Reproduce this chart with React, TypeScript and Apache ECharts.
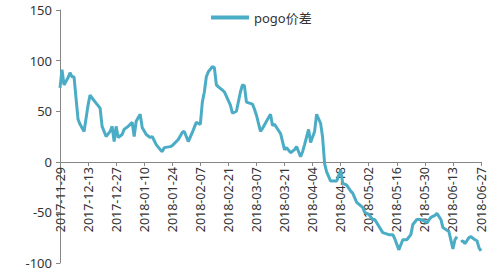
import React, { useEffect, useRef } from "react";
import * as echarts from "echarts";

const seriesName = "pogo价差";
const startDate = "2017-11-29";
const endDate = "2018-06-27";
const yTicks = [-100, -50, 0, 50, 100, 150];

const pointDates = [
  "2017-11-29", "2017-11-30", "2017-12-01", "2017-12-03", "2017-12-04", "2017-12-05", "2017-12-06",
  "2017-12-08", "2017-12-09", "2017-12-11", "2017-12-13", "2017-12-14", "2017-12-15", "2017-12-17",
  "2017-12-19", "2017-12-20", "2017-12-22", "2017-12-24", "2017-12-25", "2017-12-26", "2017-12-27",
  "2017-12-28", "2017-12-30", "2017-12-31", "2018-01-02", "2018-01-04", "2018-01-05", "2018-01-06",
  "2018-01-08", "2018-01-09", "2018-01-11", "2018-01-13", "2018-01-14", "2018-01-16", "2018-01-18",
  "2018-01-19", "2018-01-20", "2018-01-23", "2018-01-24", "2018-01-27", "2018-01-29", "2018-01-30",
  "2018-02-01", "2018-02-03", "2018-02-04", "2018-02-05", "2018-02-07", "2018-02-08", "2018-02-09",
  "2018-02-10", "2018-02-11", "2018-02-13", "2018-02-14", "2018-02-15", "2018-02-16", "2018-02-18",
  "2018-02-19", "2018-02-22", "2018-02-23", "2018-02-25", "2018-02-27", "2018-02-28", "2018-03-01",
  "2018-03-02", "2018-03-05", "2018-03-06", "2018-03-07", "2018-03-09", "2018-03-10", "2018-03-12",
  "2018-03-14", "2018-03-15", "2018-03-16", "2018-03-19", "2018-03-21", "2018-03-22", "2018-03-24",
  "2018-03-26", "2018-03-27", "2018-03-29", "2018-03-30", "2018-03-31", "2018-04-02", "2018-04-03",
  "2018-04-05", "2018-04-06", "2018-04-08", "2018-04-09", "2018-04-10", "2018-04-11", "2018-04-13",
  "2018-04-14", "2018-04-16", "2018-04-18", "2018-04-19", "2018-04-21", "2018-04-23", "2018-04-24",
  "2018-04-26", "2018-04-29", "2018-04-30", "2018-05-02", "2018-05-04", "2018-05-05", "2018-05-09",
  "2018-05-12", "2018-05-14", "2018-05-15", "2018-05-17", "2018-05-19", "2018-05-21", "2018-05-23",
  "2018-05-24", "2018-05-26", "2018-05-28", "2018-05-29", "2018-05-31", "2018-06-02", "2018-06-04",
  "2018-06-05", "2018-06-07", "2018-06-08", "2018-06-11", "2018-06-13", "2018-06-14", "2018-06-15",
  "2018-06-16", "2018-06-17", "2018-06-18", "2018-06-19", "2018-06-21", "2018-06-22", "2018-06-24",
  "2018-06-25", "2018-06-26", "2018-06-27",
];

const pointValues: (number | null)[] = [
  73, 91, 76, 83, 88, 84, 84,
  42, 37, 30, 56, 66, 63, 58,
  53, 35, 25, 30, 35, 20, 35,
  24, 27, 32, 35, 39, 25, 40,
  47, 34, 27, 24, 25, 17, 12,
  10, 14, 15, 16, 22, 29, 30,
  20, 29, 34, 39, 37, 59, 69,
  84, 89, 94, 93, 76, 74, 71,
  69, 56, 48, 50, 69, 76, 75,
  59, 57, 52, 46, 30, 33, 40,
  47, 36, 37, 28, 12, 14, 9,
  12, 15, 5, 10, 17, 32, 19,
  30, 47, 38, 24, -2, -10, -19,
  -19, -19, -8, -21, -23, -29, -31,
  -40, -45, -50, -52, -57, -57, -70,
  -72, -72, -76, -87, -77, -77, -72,
  -62, -57, -57, -58, -60, -55, -53,
  -51, -57, -65, -69, -86, -77, -74,
  null, -79, -78, -81, -75, -74, -77,
  -78, -85, -88,
];

function buildCategories(start: string, end: string): string[] {
  const out: string[] = [];
  const d = new Date(start + "T00:00:00Z");
  const e = new Date(end + "T00:00:00Z");
  while (d.getTime() <= e.getTime()) {
    out.push(d.toISOString().slice(0, 10));
    d.setUTCDate(d.getUTCDate() + 1);
  }
  return out;
}

export default function App() {
  const ref = useRef<HTMLDivElement>(null);
  useEffect(() => {
    document.body.style.margin = "0";
    if (!ref.current) return;
    const chart = echarts.init(ref.current, undefined, { renderer: "svg" });
    const categories = buildCategories(startDate, endDate);
    const data = pointDates.map((d, i) => [d, pointValues[i] === null ? "-" : pointValues[i]]);
    const font = "'Noto Sans', 'Noto Sans CJK SC', sans-serif";
    const gridTop = 10;
    const gridBottom = 9;
    const plotH = 272 - gridTop - gridBottom;
    const zeroOffset = -Math.round((plotH * (0 - -100)) / (150 - -100));
    chart.setOption({
      animation: false,
      backgroundColor: "#ffffff",
      grid: {
        left: 60,
        right: 19,
        top: gridTop,
        bottom: gridBottom,
        containLabel: false,
        outerBoundsMode: "none",
      },
      legend: {
        data: [seriesName],
        left: 206,
        top: 6,
        icon: "rect",
        itemWidth: 38,
        itemHeight: 4,
        itemGap: 6,
        textStyle: { fontFamily: font, fontSize: 13, color: "#333333" },
      },
      xAxis: {
        type: "category",
        data: categories,
        boundaryGap: false,
        position: "bottom",
        offset: zeroOffset,
        axisLine: { onZero: false, lineStyle: { color: "#868686", width: 1 } },
        axisTick: { show: true, interval: 13, length: 4, lineStyle: { color: "#868686" } },
        axisLabel: {
          interval: 13,
          rotate: 90,
          fontSize: 12.5,
          fontFamily: font,
          color: "#333333",
          margin: 5,
        },
        splitLine: { show: false },
      },
      yAxis: {
        type: "value",
        min: -100,
        max: 150,
        interval: 50,
        axisLine: { show: true, lineStyle: { color: "#868686", width: 1 } },
        axisTick: { show: true, length: 4, lineStyle: { color: "#868686" } },
        axisLabel: {
          fontSize: 13,
          fontFamily: font,
          color: "#333333",
          margin: 8,
          formatter: (v: number) => (yTicks.includes(v) ? String(v) : ""),
        },
        splitLine: { show: false },
      },
      series: [
        {
          name: seriesName,
          type: "line",
          data,
          showSymbol: false,
          connectNulls: false,
          lineStyle: { color: "#4BACC6", width: 3 },
          itemStyle: { color: "#4BACC6" },
        },
      ],
    });
    return () => chart.dispose();
  }, []);
  return <div ref={ref} style={{ width: 500, height: 272 }} />;
}
